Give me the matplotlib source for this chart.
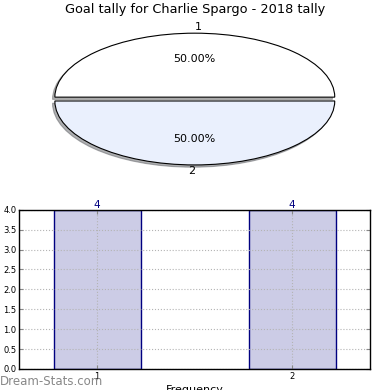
import numpy as np
import matplotlib
matplotlib.use("Agg")
import matplotlib.pyplot as plt

# data
title = "Goal tally for Charlie Spargo - 2018 tally"
pie_labels = ["1", "2"]
pie_values = [4, 4]
pie_colors = ["#ffffff", "#eaf0fd"]
bar_cats = [1, 2]
bar_values = [4, 4]
yticks = [0.0, 0.5, 1.0, 1.5, 2.0, 2.5, 3.0, 3.5, 4.0]

fig = plt.figure(figsize=(3.9, 3.9), dpi=100)
fig.patch.set_facecolor("white")

# pie on top
ax1 = fig.add_axes([0.051, 0.541, 0.897, 0.41])
wedges, texts, autotexts = ax1.pie(
    pie_values, labels=pie_labels, colors=pie_colors, autopct="%.2f%%",
    explode=[0.03, 0.03], shadow={"ox": -0.012, "oy": -0.025, "shade": 0.6},
    startangle=0,
    wedgeprops={"edgecolor": "black", "linewidth": 0.8},
    textprops={"fontsize": 8})
texts[0].set_ha("left")
texts[1].set_ha("right")
ax1.set_aspect("auto")
ax1.set_xlim(-1.25, 1.25)
ax1.set_ylim(-1.25, 1.25)
fig.text(0.5, 0.975, title, ha="center", va="center", fontsize=9.3)

# bar chart below
ax2 = fig.add_axes([0.049, 0.054, 0.9, 0.408])
bars = ax2.bar(bar_cats, bar_values, width=0.446, color="#cccce6",
               edgecolor="#000080", linewidth=1.0, zorder=2)
for x, v in zip(bar_cats, bar_values):
    ax2.text(x, v, str(v), ha="center", va="bottom", color="#000080",
             fontsize=7.5)
ax2.set_xlim(0.6, 2.4)
ax2.set_ylim(0, 4)
ax2.set_xticks(bar_cats)
ax2.set_yticks(yticks)
ax2.set_yticklabels(["%.1f" % t for t in yticks])
ax2.tick_params(labelsize=6, direction="in", length=3, top=True, right=True,
                color="#888888", pad=2)
ax2.grid(True, linestyle=":", color="#b4b4b4", linewidth=0.8, zorder=3)
ax2.set_axisbelow(False)
for s in ax2.spines.values():
    s.set_linewidth(1.0)
    s.set_zorder(5)
ax2.set_xlabel("Frequency", fontsize=8, labelpad=3)

fig.text(0.0, 0.022, "Dream-Stats.com", color="#888888", fontsize=8.5,
         ha="left", va="center")

fig.savefig("out.png", dpi=100)
